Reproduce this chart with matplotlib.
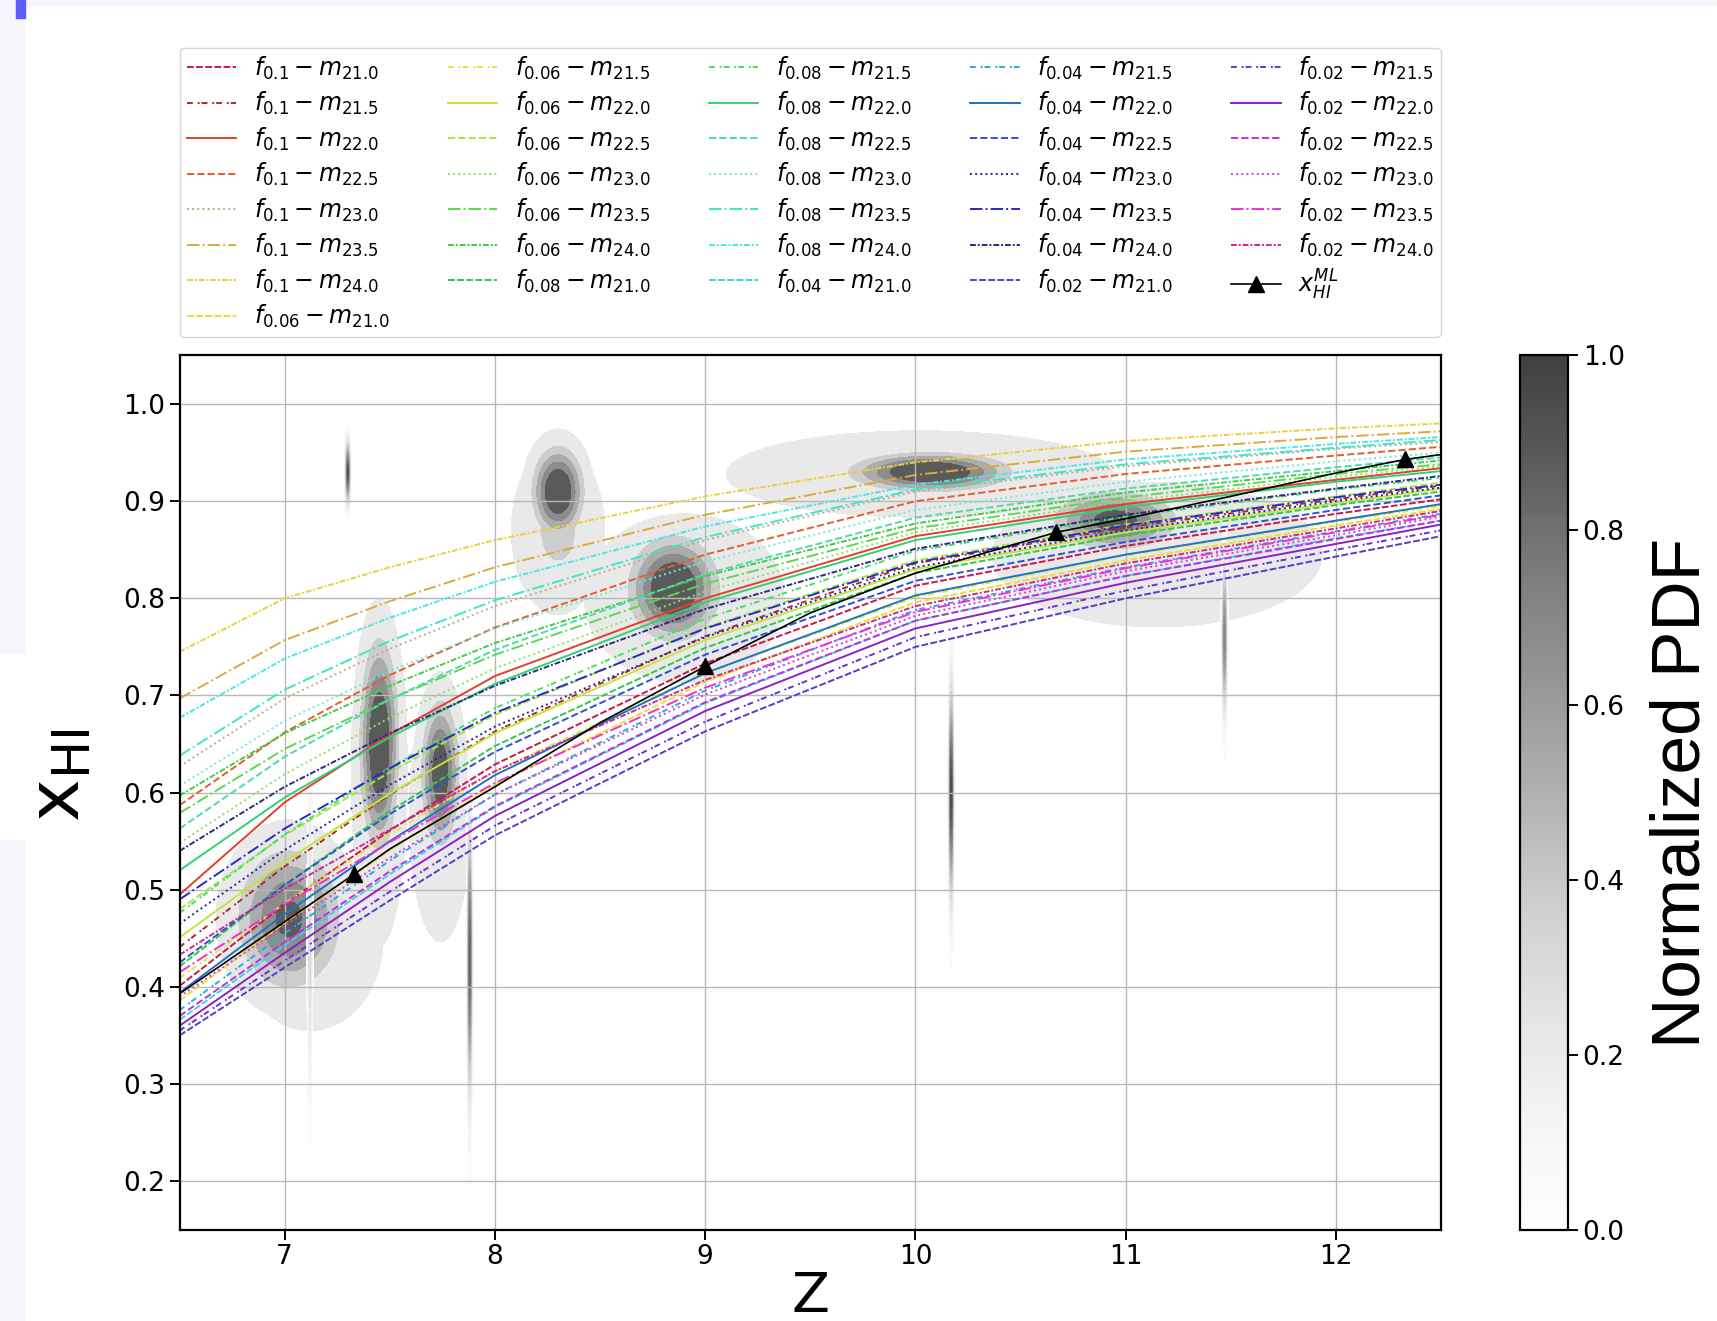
import numpy as np
import matplotlib
matplotlib.use("Agg")
import matplotlib.pyplot as plt
from matplotlib.colors import ListedColormap, Normalize
from matplotlib.cm import ScalarMappable
from matplotlib.patches import Rectangle

z_grid = [6.5, 7.0, 7.5, 8.0, 9.0, 10.0, 11.0, 12.0, 12.5]

f_vals = ["0.1", "0.06", "0.08", "0.04", "0.02"]
m_vals = ["21.0", "21.5", "22.0", "22.5", "23.0", "23.5", "24.0"]

# x_HI(z) for every f / m combination (rows follow m_vals)
xhi_f01 = [
    [0.401, 0.485, 0.561, 0.629, 0.733, 0.813, 0.854, 0.887, 0.902],
    [0.441, 0.524, 0.598, 0.663, 0.761, 0.836, 0.873, 0.902, 0.916],
    [0.495, 0.590, 0.660, 0.720, 0.800, 0.864, 0.897, 0.922, 0.934],
    [0.587, 0.662, 0.721, 0.770, 0.845, 0.900, 0.928, 0.947, 0.956],
    [0.627, 0.697, 0.748, 0.792, 0.860, 0.910, 0.936, 0.954, 0.961],
    [0.697, 0.757, 0.797, 0.832, 0.886, 0.927, 0.951, 0.966, 0.972],
    [0.745, 0.800, 0.832, 0.860, 0.905, 0.940, 0.962, 0.975, 0.980],
]
xhi_f006 = [
    [0.386, 0.466, 0.541, 0.608, 0.714, 0.796, 0.839, 0.875, 0.892],
    [0.409, 0.486, 0.557, 0.622, 0.723, 0.801, 0.844, 0.879, 0.895],
    [0.451, 0.529, 0.599, 0.661, 0.757, 0.830, 0.868, 0.898, 0.913],
    [0.480, 0.556, 0.621, 0.680, 0.770, 0.839, 0.876, 0.905, 0.919],
    [0.548, 0.619, 0.677, 0.728, 0.807, 0.868, 0.900, 0.925, 0.936],
    [0.579, 0.645, 0.696, 0.742, 0.815, 0.872, 0.904, 0.928, 0.938],
    [0.597, 0.661, 0.710, 0.754, 0.823, 0.877, 0.909, 0.931, 0.942],
]
xhi_f008 = [
    [0.421, 0.505, 0.581, 0.648, 0.749, 0.826, 0.865, 0.896, 0.910],
    [0.476, 0.557, 0.626, 0.687, 0.779, 0.849, 0.884, 0.912, 0.924],
    [0.520, 0.595, 0.657, 0.712, 0.796, 0.860, 0.894, 0.920, 0.931],
    [0.563, 0.637, 0.696, 0.747, 0.825, 0.883, 0.913, 0.935, 0.945],
    [0.607, 0.674, 0.725, 0.769, 0.838, 0.891, 0.920, 0.941, 0.950],
    [0.638, 0.706, 0.756, 0.798, 0.863, 0.912, 0.938, 0.955, 0.963],
    [0.677, 0.738, 0.780, 0.817, 0.874, 0.917, 0.943, 0.959, 0.966],
]
xhi_f004 = [
    [0.366, 0.443, 0.516, 0.585, 0.692, 0.777, 0.823, 0.862, 0.880],
    [0.376, 0.455, 0.530, 0.598, 0.705, 0.788, 0.832, 0.869, 0.887],
    [0.394, 0.475, 0.550, 0.618, 0.723, 0.803, 0.845, 0.880, 0.897],
    [0.425, 0.505, 0.578, 0.642, 0.742, 0.818, 0.858, 0.891, 0.906],
    [0.465, 0.541, 0.608, 0.668, 0.760, 0.832, 0.870, 0.900, 0.914],
    [0.490, 0.563, 0.625, 0.682, 0.769, 0.837, 0.875, 0.904, 0.917],
    [0.540, 0.606, 0.661, 0.710, 0.789, 0.851, 0.886, 0.913, 0.926],
]
xhi_f002 = [
    [0.350, 0.420, 0.489, 0.556, 0.663, 0.750, 0.800, 0.843, 0.864],
    [0.355, 0.427, 0.498, 0.566, 0.673, 0.760, 0.808, 0.850, 0.870],
    [0.360, 0.435, 0.508, 0.576, 0.684, 0.769, 0.816, 0.856, 0.876],
    [0.370, 0.446, 0.519, 0.586, 0.693, 0.777, 0.823, 0.861, 0.880],
    [0.390, 0.463, 0.533, 0.598, 0.701, 0.782, 0.828, 0.865, 0.884],
    [0.415, 0.485, 0.549, 0.610, 0.708, 0.786, 0.831, 0.868, 0.886],
    [0.433, 0.501, 0.562, 0.622, 0.716, 0.792, 0.836, 0.872, 0.890],
]

# maximum likelihood history
z_ml = [6.5, 7.0, 7.33, 7.5, 8.0, 8.5, 9.0, 9.5, 10.0, 10.67, 11.0, 11.5, 12.0, 12.33, 12.5]
xhi_ml = [0.393, 0.467, 0.516, 0.542, 0.606, 0.672, 0.730, 0.785, 0.826, 0.868, 0.882, 0.905, 0.929, 0.943, 0.948]
ml_marks = [2, 6, 9, 13]

# posterior blobs: centre z, centre x_HI, width z, width x_HI, peak
blob_z = [7.02, 7.12, 7.45, 7.45, 7.74, 7.74, 8.30, 8.30, 8.85, 8.90, 10.07, 10.02, 10.95, 11.15]
blob_x = [0.47, 0.45, 0.65, 0.62, 0.62, 0.58, 0.91, 0.87, 0.81, 0.80, 0.93, 0.928, 0.88, 0.845]
blob_sz = [0.17, 0.22, 0.06, 0.09, 0.06, 0.10, 0.08, 0.14, 0.14, 0.30, 0.25, 0.62, 0.20, 0.58]
blob_sx = [0.05, 0.06, 0.07, 0.12, 0.05, 0.09, 0.03, 0.055, 0.035, 0.055, 0.013, 0.03, 0.02, 0.055]
blob_amp = [0.8, 0.35, 1.0, 0.3, 0.9, 0.3, 1.0, 0.35, 1.0, 0.35, 1.0, 0.3, 0.85, 0.25]

# very narrow posteriors (thin vertical streaks)
streak_z = [7.30, 7.12, 7.88, 10.17, 11.47]
streak_x = [0.93, 0.45, 0.43, 0.60, 0.76]
streak_sx = [0.02, 0.10, 0.09, 0.07, 0.05]
streak_amp = [0.9, 0.3, 0.85, 0.95, 0.7]

m_styles = [(0, (3.5, 1.2)), (0, (3, 2.5, 1, 1)), "-", "--", ":", "-.", (0, (3, 1, 1, 1))]
colors = {
    "0.1": ["#c8184a", "#b02a2a", "#e2402a", "#e0602e", "#c8a882", "#dcaa3a", "#e6d23a"],
    "0.06": ["#eedc30", "#d6ec40", "#c2e63c", "#a6e644", "#90de6a", "#5ed650", "#40cc44"],
    "0.08": ["#30c850", "#40e064", "#30d078", "#4cdcac", "#6cecd4", "#40e4c8", "#4ce6e0"],
    "0.04": ["#3cd4e6", "#30a6e0", "#2272c0", "#3050d0", "#202890", "#2828c8", "#302884"],
    "0.02": ["#5040c8", "#6a30d4", "#9020c0", "#c030e0", "#d040d0", "#f030d0", "#cc2890"],
}
curves = {"0.1": xhi_f01, "0.06": xhi_f006, "0.08": xhi_f008, "0.04": xhi_f004, "0.02": xhi_f002}

# grey colour map as it looks with alpha 0.75 over white
greys = plt.get_cmap("Greys")(np.linspace(0, 1, 256))
blend = greys.copy()
blend[:, :3] = 1 - 0.75 * (1 - greys[:, :3])
pdf_cmap = ListedColormap(blend)

fig = plt.figure(figsize=(17.17, 13.21), dpi=100)
fig.patch.set_facecolor("white")

# screenshot border bits
fig.patches.append(Rectangle((0, 1 - 6 / 1321), 1, 6 / 1321, transform=fig.transFigure, color="#f5f5fc", zorder=0))
fig.patches.append(Rectangle((0, 0.5064), 0.014, 0.4936, transform=fig.transFigure, color="#f5f5fc", zorder=0))
fig.patches.append(Rectangle((0, 0), 0.014, 0.3641, transform=fig.transFigure, color="#f5f5fc", zorder=0))
fig.patches.append(Rectangle((0.0093, 1 - 18 / 1321), 0.0052, 18 / 1321, transform=fig.transFigure, color="#5c5cff", zorder=1))

ax = fig.add_axes([0.1046, 0.0691, 0.7347, 0.6618])

# blobs
zz, xx = np.meshgrid(np.linspace(6.5, 12.5, 700), np.linspace(0.15, 1.05, 500))
field = np.zeros_like(zz)
for bz, bx, sz, sx, a in zip(blob_z, blob_x, blob_sz, blob_sx, blob_amp):
    g = a * np.exp(-0.5 * (((zz - bz) / sz) ** 2 + ((xx - bx) / sx) ** 2))
    field = np.maximum(field, g)
ax.contourf(zz, xx, field, levels=[0.1, 0.3, 0.45, 0.6, 0.75, 1.01], cmap=pdf_cmap, vmin=0, vmax=1, zorder=1)

# streaks
for sz_c, sx_c, sw, a in zip(streak_z, streak_x, streak_sx, streak_amp):
    lz, lx = np.meshgrid(np.linspace(sz_c - 0.03, sz_c + 0.03, 80), np.linspace(0.15, 1.05, 400))
    g = a * np.exp(-0.5 * (((lz - sz_c) / 0.007) ** 2 + ((lx - sx_c) / sw) ** 2))
    ax.contourf(lz, lx, g, levels=np.linspace(0.03, 1.0, 25), cmap=pdf_cmap, vmin=0, vmax=1, zorder=1)

for f in f_vals:
    for m, ls, c, y in zip(m_vals, m_styles, colors[f], curves[f]):
        ax.plot(z_grid, y, color=c, ls=ls, lw=1.4, zorder=2,
                label=r"$f_{%s}-m_{%s}$" % (f, m))

ax.plot(z_ml, xhi_ml, color="k", lw=1.2, marker="^", markevery=ml_marks, ms=11,
        zorder=3, label=r"$x_{HI}^{ML}$")

ax.set_xlim(6.5, 12.5)
ax.set_ylim(0.15, 1.05)
ax.set_xticks([7, 8, 9, 10, 11, 12])
ax.set_yticks([0.2, 0.3, 0.4, 0.5, 0.6, 0.7, 0.8, 0.9, 1.0])
ax.grid(True, color="#b8b8b8", lw=1.0)
ax.tick_params(labelsize=19, length=7, width=1.4)
for s in ax.spines.values():
    s.set_linewidth(1.6)
ax.set_xlabel("Z", fontsize=40, labelpad=0)
ax.set_ylabel(r"x$_{\rm HI}$", fontsize=52, labelpad=23)
ax.yaxis.set_label_coords(-0.068, 0.52)

ax.legend(loc="lower left", bbox_to_anchor=(0, 1.021, 1, 0.2), mode="expand", ncol=5,
          fontsize=17, labelspacing=0.35, handlelength=2.1, handletextpad=0.75,
          borderaxespad=0, borderpad=0.3)

cax = fig.add_axes([0.8853, 0.0691, 0.028, 0.6618])
cb = fig.colorbar(ScalarMappable(norm=Normalize(0, 1), cmap=pdf_cmap), cax=cax)
cb.set_ticks([0.0, 0.2, 0.4, 0.6, 0.8, 1.0])
cb.ax.tick_params(labelsize=19, length=7, width=1.4)
cb.outline.set_linewidth(1.6)
cb.set_label("Normalized PDF", fontsize=50, labelpad=18,
              family=["Liberation Sans Narrow", "Liberation Sans", "DejaVu Sans"])

fig.savefig("out.png", dpi=100)
